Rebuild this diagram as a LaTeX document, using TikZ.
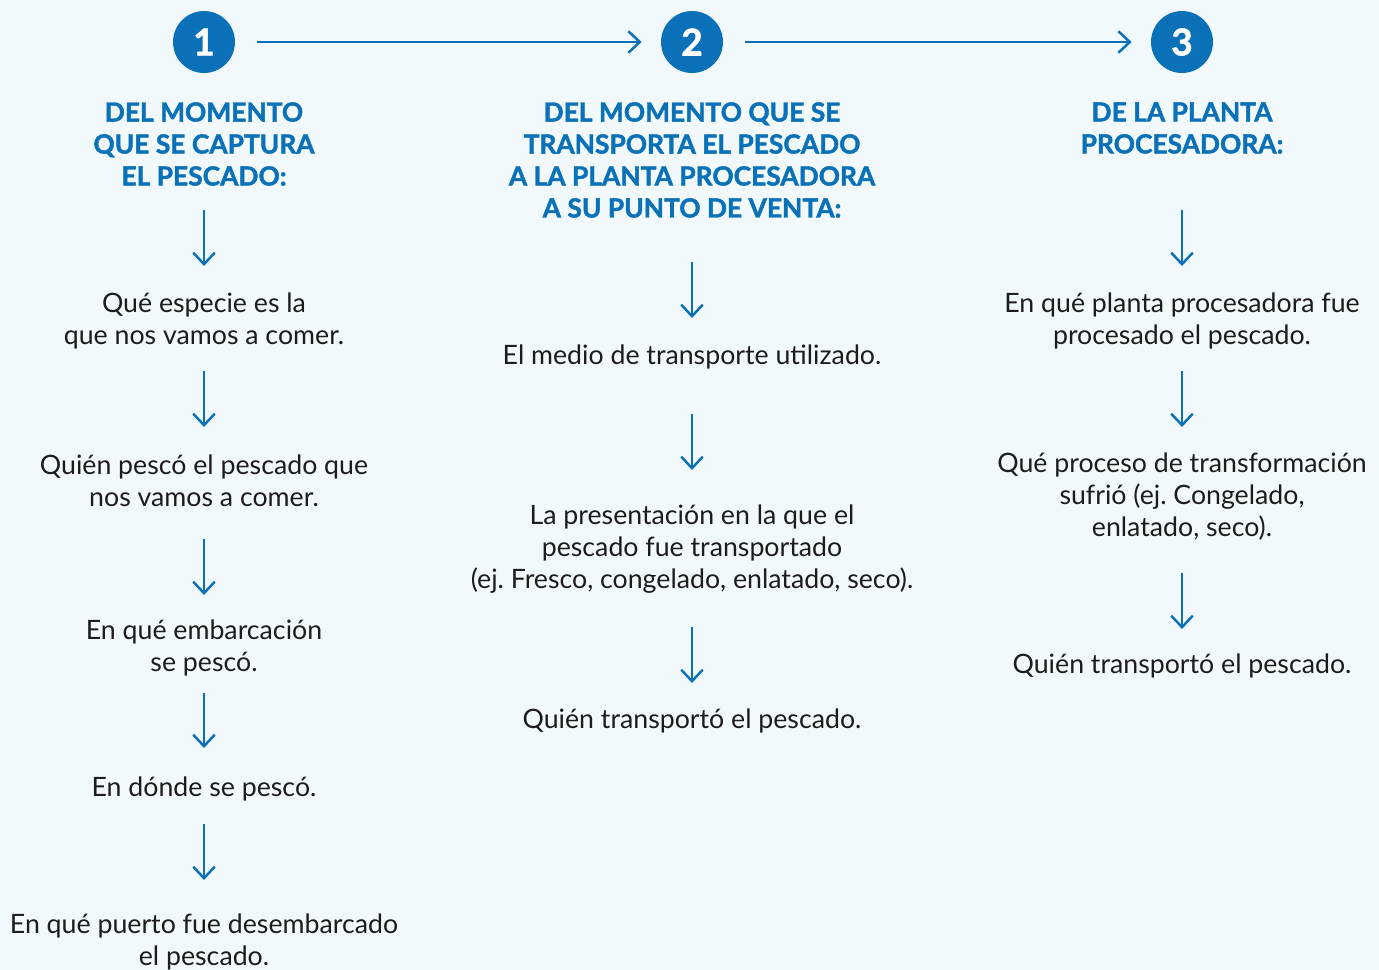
\documentclass[tikz,border=0pt]{standalone}
\usepackage{fontspec}
\setmainfont{Lato}[BoldFeatures={FakeBold=1.6}]
\usetikzlibrary{arrows.meta}
\frenchspacing

\definecolor{azul}{HTML}{0A70B8}
\definecolor{fondo}{HTML}{F2F9FD}
\definecolor{texto}{HTML}{1C1C1C}

\tikzset{
  paso/.style={circle, fill=azul, minimum size=1.24cm, inner sep=0pt,
    text=white, font=\fontsize{21}{21}\selectfont\bfseries},
  titulo/.style={align=center, text=azul, inner sep=0pt,
    font=\fontsize{15.0}{18.2}\selectfont\bfseries},
  dato/.style={align=center, text=texto, inner sep=0pt,
    font=\fontsize{15.2}{18.2}\selectfont},
  flecha/.style={-{Straight Barb[length=2.3mm,width=4.3mm]}, azul, line width=1.4pt},
}

\begin{document}
\begin{tikzpicture}[x=0.02cm,y=-0.02cm]
  % fondo
  \fill[fondo] (0,0) rectangle (1379,970);
  \useasboundingbox (0,0) rectangle (1379,970);

  % pasos
  \node[paso] (c1) at (204,42) {1};
  \node[paso] (c2) at (692,42) {2};
  \node[paso] (c3) at (1182,42) {3};
  \draw[flecha, shorten <=0.44cm, shorten >=0.38cm] (c1) -- (c2);
  \draw[flecha, shorten <=0.44cm, shorten >=0.38cm] (c2) -- (c3);

  % titulos
  \node[titulo] (h1) at (204,144) {DEL MOMENTO\\QUE SE CAPTURA\\EL PESCADO:};
  \node[titulo] (h2) at (692,160) {DEL MOMENTO QUE SE\\TRANSPORTA EL PESCADO\\A LA PLANTA PROCESADORA\\A SU PUNTO DE VENTA:};
  \node[titulo] (h3) at (1182,128) {DE LA PLANTA\\PROCESADORA:};

  % columna 1
  \node[dato] (a1) at (204,321) {Qué especie es la\\que nos vamos a comer.};
  \node[dato] (a2) at (204,481) {Quién pescó el pescado que\\nos vamos a comer.};
  \node[dato] (a3) at (204,648) {En qué embarcación\\se pescó.};
  \node[dato] (a4) at (204,789) {En dónde se pescó.};
  \node[dato] (a5) at (204,942) {En qué puerto fue desembarcado\\el pescado.};

  % columna 2
  \node[dato] (b1) at (692,357) {El medio de transporte utilizado.};
  \node[dato] (b2) at (692,549) {La presentación en la que el\\pescado fue transportado\\(ej. Fresco, congelado, enlatado, seco).};
  \node[dato] (b3) at (692,721) {Quién transportó el pescado.};

  % columna 3
  \node[dato] (d1) at (1182,321) {En qué planta procesadora fue\\procesado el pescado.};
  \node[dato] (d2) at (1182,497) {Qué proceso de transformación\\sufrió (ej. Congelado,\\enlatado, seco).};
  \node[dato] (d3) at (1182,666) {Quién transportó el pescado.};

  % flechas verticales
  \foreach \n/\x/\a/\b in {p1/204/210/266, p2/204/371/427, p3/204/539/595,
      p4/204/693/748, p5/204/824/880, q1/692/262/318, q2/692/414/470,
      q3/692/627/683, r1/1182/210/266, r2/1182/371/427, r3/1182/573/629}{
    \coordinate (\n s) at (\x,\a);
    \coordinate (\n e) at (\x,\b);
    \draw[flecha] (\n s) -- (\n e);
  }
\end{tikzpicture}
\end{document}
